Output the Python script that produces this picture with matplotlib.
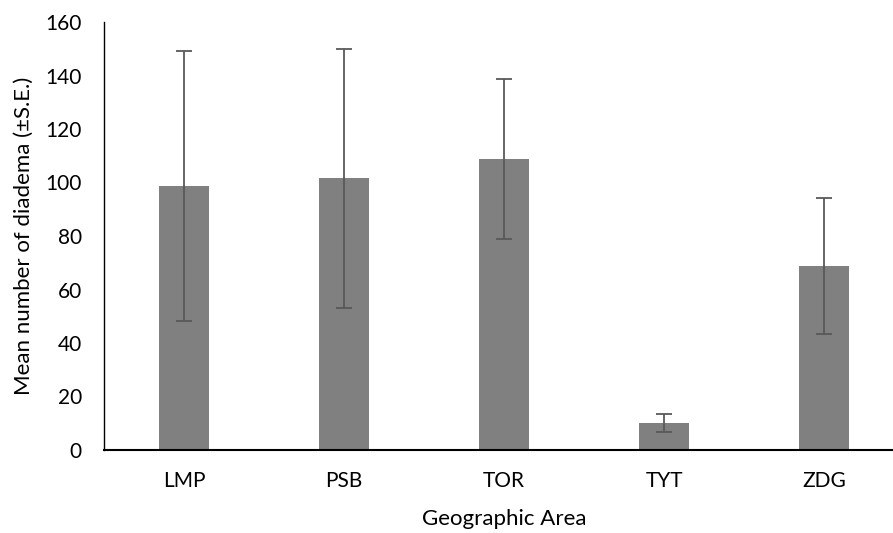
import matplotlib
matplotlib.use("Agg")
import matplotlib.pyplot as plt

categories = ["LMP", "PSB", "TOR", "TYT", "ZDG"]
means = [98.7, 101.6, 108.8, 10.2, 68.8]
errors = [50.5, 48.4, 29.8, 3.4, 25.5]
yticks = [0, 20, 40, 60, 80, 100, 120, 140, 160]

plt.rcParams['font.family'] = ['Lato', 'DejaVu Sans']

fig = plt.figure(figsize=(8.93, 5.33), dpi=100)
ax = fig.add_axes([104/893, (533-450)/533, 800/893, 428/533])

x = list(range(len(categories)))
ax.bar(x, means, width=0.31, color='#808080', zorder=2)
ax.errorbar(x, means, yerr=errors, fmt='none', ecolor='#595959',
            elinewidth=1.3, capsize=6, capthick=1.3, zorder=3)

ax.set_xlim(-0.5, 4.5)
ax.set_ylim(0, 160)
ax.set_yticks(yticks)
ax.set_xticks(x)
ax.set_xticklabels(categories)
ax.tick_params(axis='both', length=0, labelsize=15, colors='black')
ax.tick_params(axis='y', pad=16)
ax.tick_params(axis='x', pad=15)

for s in ['top', 'right']:
    ax.spines[s].set_visible(False)
ax.spines['left'].set_linewidth(1.0)
ax.spines['bottom'].set_linewidth(1.5)

ax.set_ylabel("Mean number of diadema (±S.E.)", fontsize=16, labelpad=8)
ax.set_xlabel("Geographic Area", fontsize=16, labelpad=13)

fig.savefig("out.png", dpi=100)
